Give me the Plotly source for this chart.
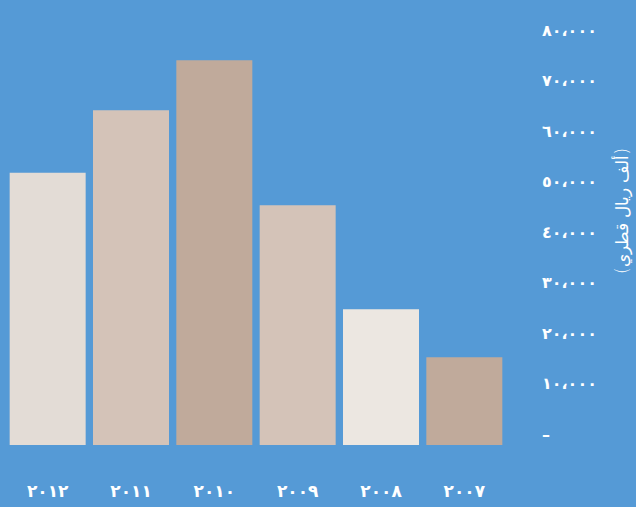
import plotly.graph_objects as go

# Annual figures, thousand Qatari riyals (left to right: 2012 ... 2007)
years = ["٢٠١٢", "٢٠١١", "٢٠١٠", "٢٠٠٩", "٢٠٠٨", "٢٠٠٧"]
values = [53900, 66300, 76200, 47500, 26900, 17400]
bar_colors = ["#e3dcd6", "#d4c3b8", "#c0aa9b", "#d4c3b8", "#ece7e1", "#c0aa9b"]

tick_values = [0, 10000, 20000, 30000, 40000, 50000, 60000, 70000, 80000]
tick_labels = ["–", "١٠،٠٠٠", "٢٠،٠٠٠", "٣٠،٠٠٠", "٤٠،٠٠٠",
               "٥٠،٠٠٠", "٦٠،٠٠٠", "٧٠،٠٠٠", "٨٠،٠٠٠"]
axis_title = "(ألف ريال قطري)"

bg = "#559ad6"

fig = go.Figure(
    go.Bar(
        x=years,
        y=values,
        marker=dict(color=bar_colors, line=dict(width=0)),
        hoverinfo="skip",
    )
)

fig.update_layout(
    width=636,
    height=507,
    margin=dict(l=6, r=130, t=41, b=62, autoexpand=False),
    paper_bgcolor=bg,
    plot_bgcolor=bg,
    bargap=0.088,
    showlegend=False,
    font=dict(family="DejaVu Sans", color="white"),
)

fig.update_xaxes(
    type="category",
    categoryorder="array",
    categoryarray=years,
    automargin=False,
    showgrid=False,
    zeroline=False,
    showline=False,
    ticks="",
    ticklabelstandoff=34,
    tickfont=dict(family="DejaVu Sans", size=17, color="white", weight="bold"),
)

fig.update_yaxes(
    side="right",
    range=[0, 80000],
    automargin=False,
    tickmode="array",
    tickvals=tick_values,
    ticktext=tick_labels,
    showgrid=False,
    zeroline=False,
    showline=False,
    ticks="",
    ticklabelshift=-11,
    ticklabelstandoff=35,
    tickfont=dict(family="DejaVu Sans", size=16, color="white", weight="bold"),
)

# Unit label, rotated, to the right of the value axis
fig.add_annotation(
    text=axis_title,
    xref="paper",
    yref="paper",
    x=(622 - 6) / 500,
    y=(445 - 211) / 404,
    xanchor="center",
    yanchor="middle",
    showarrow=False,
    textangle=-90,
    font=dict(family="DejaVu Sans", size=17, color="white", weight=300),
)

fig.write_html("out.html")
